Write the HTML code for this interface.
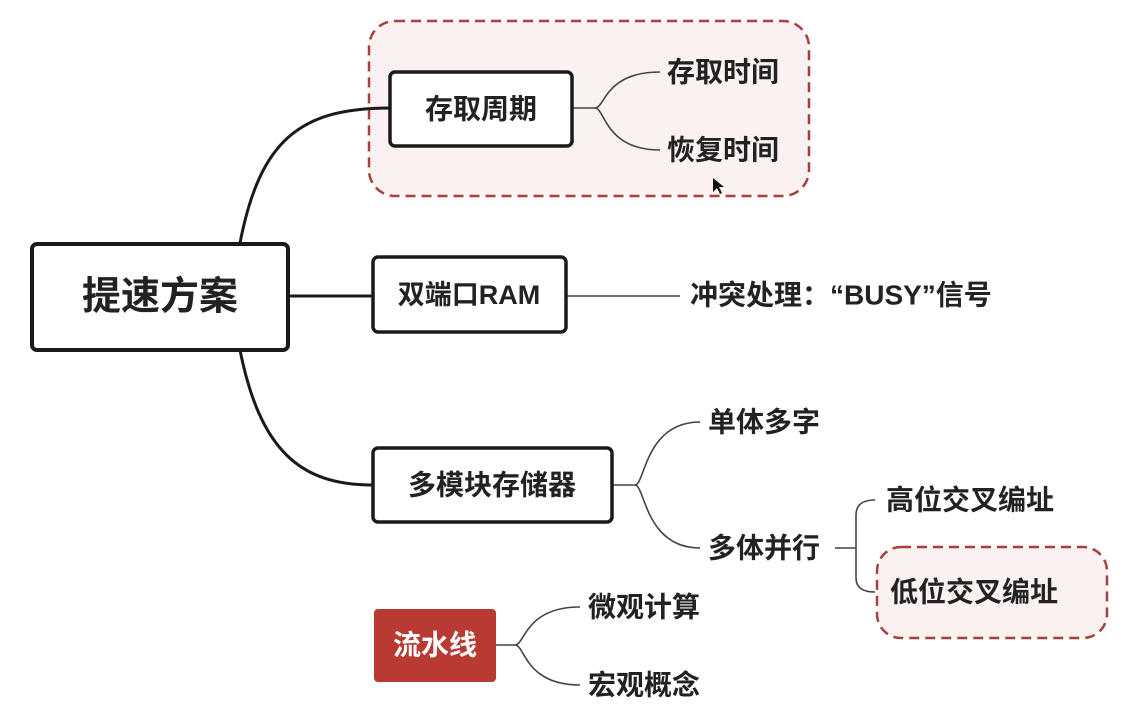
<!DOCTYPE html>
<html><head><meta charset="utf-8"><style>
html,body{margin:0;padding:0;background:#fff;}
svg{display:block;}
text{font-family:"Liberation Sans","Noto Sans CJK SC",sans-serif;fill:#222;dominant-baseline:central;}
</style></head><body>
<svg width="1140" height="713" viewBox="0 0 1140 713" xmlns="http://www.w3.org/2000/svg">
<rect x="369" y="21" width="440" height="175" rx="26" fill="#faf1f0" stroke="#a84040" stroke-width="2.5" stroke-dasharray="10,6"/>
<rect x="877" y="547" width="230" height="91" rx="24" fill="#faf1f0" stroke="#a84040" stroke-width="2.5" stroke-dasharray="10,6"/>
<g fill="none" stroke="#1a1a1a" stroke-width="3">
<path d="M240,243 C260,140 300,108 390,108"/>
<path d="M288,296 L372,296"/>
<path d="M240,350 C260,450 300,485 372,485"/>
</g>
<g fill="none" stroke="#444" stroke-width="1.6">
<path d="M572,108 L595,108 C605,108 605,72 660,72"/>
<path d="M595,108 C605,108 605,150 660,150"/>
<path d="M566,296 L680,296"/>
<path d="M612,485 L635,485 C645,485 645,422 700,422"/>
<path d="M635,485 C645,485 645,548 700,548"/>
<path d="M835,548 L856,548"/>
<path d="M875,500 Q856,500 856,515 L856,578 Q856,592 875,592"/>
<path d="M496,645 L515,645 C525,645 525,607 580,607"/>
<path d="M515,645 C525,645 525,685 580,685"/>
</g>
<rect x="32" y="244" width="256" height="106" rx="5" fill="#fff" stroke="#1a1a1a" stroke-width="4"/>
<text x="160" y="297" font-size="39" font-weight="bold" text-anchor="middle">提速方案</text>
<rect x="390" y="72" width="182" height="74" rx="5" fill="#fff" stroke="#1a1a1a" stroke-width="3.5"/>
<text x="481" y="109" font-size="28" font-weight="bold" text-anchor="middle">存取周期</text>
<rect x="373" y="257" width="193" height="75" rx="5" fill="#fff" stroke="#1a1a1a" stroke-width="3.5"/>
<text x="469" y="295" font-size="27" font-weight="bold" text-anchor="middle">双端口RAM</text>
<rect x="373" y="448" width="239" height="74" rx="5" fill="#fff" stroke="#1a1a1a" stroke-width="3.5"/>
<text x="492" y="485" font-size="28" font-weight="bold" text-anchor="middle">多模块存储器</text>
<rect x="374" y="609" width="122" height="73" rx="4" fill="#b83a33"/>
<text x="435" y="645" font-size="28" font-weight="bold" text-anchor="middle" style="fill:#fff">流水线</text>
<g font-size="28" font-weight="bold">
<text x="667" y="72">存取时间</text>
<text x="667" y="150">恢复时间</text>
<text x="690" y="295">冲突处理：“BUSY”信号</text>
<text x="708" y="422">单体多字</text>
<text x="708" y="548">多体并行</text>
<text x="886" y="500">高位交叉编址</text>
<text x="890" y="592">低位交叉编址</text>
<text x="588" y="607">微观计算</text>
<text x="588" y="685">宏观概念</text>
</g>
<path d="M713,178 L713,192 L717,188 L720,194 L722,193 L719,187 L724,187 Z" fill="#111"/>
</svg>
</body></html>
